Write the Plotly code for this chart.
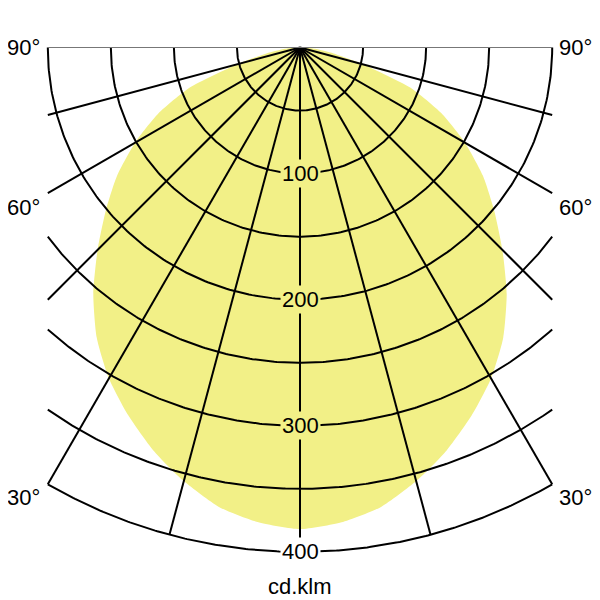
import numpy as np
import plotly.graph_objects as go

# Luminous intensity distribution (cd/klm), symmetric, angle from nadir
angles_deg = [0, 5, 10, 15, 20, 25, 30, 35, 40, 45, 50, 55, 60, 65, 70, 75, 80, 85, 90]
intensity = [382, 378, 370, 356, 340, 322, 303, 281, 255, 227, 201, 177, 151, 124, 93, 52, 27, 12, 4]

ring_values = [50, 100, 150, 200, 250, 300, 350, 400]
ring_labels = ["100", "200", "300", "400"]
ring_label_values = [100, 200, 300, 400]
spoke_angles = [-75, -60, -45, -30, -15, 0, 15, 30, 45, 60, 75]
angle_labels = ["90°", "60°", "30°"]
angle_label_depth = [0, 126.5, 356.5]
unit_label = "cd.klm"

R_MAX = 400
X_HALF = 200
K = 1.261          # px per unit
OFF = 8            # page body margin
CX_PX, CY_PX = 300 - OFF, 47.5 - OFF   # pole position inside the figure

FILL = "#f2f087"
FONT = "Liberation Sans, Arial, sans-serif"

fig = go.Figure()

a = np.array(angles_deg, dtype=float)
I = np.array(intensity, dtype=float)
full_a = np.concatenate([-a[::-1], a[1:]])
full_I = np.concatenate([I[::-1], I[1:]])
th = np.radians(full_a)
fig.add_trace(go.Scatter(
    x=np.concatenate([[0], full_I * np.sin(th), [0]]),
    y=np.concatenate([[0], -full_I * np.cos(th), [0]]),
    mode="lines", fill="toself", fillcolor=FILL,
    line=dict(width=0, color=FILL, shape="spline", smoothing=0.6),
    hoverinfo="skip", showlegend=False))

gx, gy = [], []
for r in ring_values:
    lim = 90.0 if r <= X_HALF else np.degrees(np.arcsin(X_HALF / r))
    t = np.radians(np.linspace(-lim, lim, 240))
    gx += list(r * np.sin(t)) + [None]
    gy += list(-r * np.cos(t)) + [None]
for s in spoke_angles:
    t = np.radians(s)
    L = R_MAX if abs(np.sin(t)) < 1e-9 else min(R_MAX, X_HALF / abs(np.sin(t)))
    gx += [0, L * np.sin(t), None]
    gy += [0, -L * np.cos(t), None]
fig.add_trace(go.Scatter(x=gx, y=gy, mode="lines",
                         line=dict(color="black", width=2),
                         hoverinfo="skip", showlegend=False))
fig.add_trace(go.Scatter(x=[-X_HALF, X_HALF], y=[0, 0], mode="lines",
                         line=dict(color="#777777", width=1.2),
                         hoverinfo="skip", showlegend=False))

def fx(px):
    return (px - OFF - CX_PX) / K

def fy(px):
    return -(px - OFF - CY_PX) / K

annotations = []
for lab, v in zip(ring_labels, ring_label_values):
    annotations.append(dict(x=0, y=-v, text=lab, showarrow=False,
                            font=dict(family=FONT, size=22, color="black"),
                            bgcolor=FILL if v < 400 else "white", borderpad=1,
                            xanchor="center", yanchor="middle"))
for lab, d in zip(angle_labels, angle_label_depth):
    annotations.append(dict(x=fx(42), y=-d, text=lab, showarrow=False,
                            font=dict(family=FONT, size=22, color="black"),
                            xanchor="right", yanchor="middle"))
    annotations.append(dict(x=fx(557), y=-d, text=lab, showarrow=False,
                            font=dict(family=FONT, size=22, color="black"),
                            xanchor="left", yanchor="middle"))
annotations.append(dict(x=0, y=fy(586.5), text=unit_label, showarrow=False,
                        font=dict(family=FONT, size=22, color="black"),
                        xanchor="center", yanchor="middle"))

fig.update_layout(
    width=600, height=600, margin=dict(l=0, r=0, t=0, b=0),
    paper_bgcolor="white", plot_bgcolor="white",
    xaxis=dict(range=[-CX_PX / K, (600 - CX_PX) / K], visible=False, fixedrange=True),
    yaxis=dict(range=[-(600 - CY_PX) / K, CY_PX / K], visible=False, fixedrange=True),
    annotations=annotations, showlegend=False)

fig.write_html("out.html")
